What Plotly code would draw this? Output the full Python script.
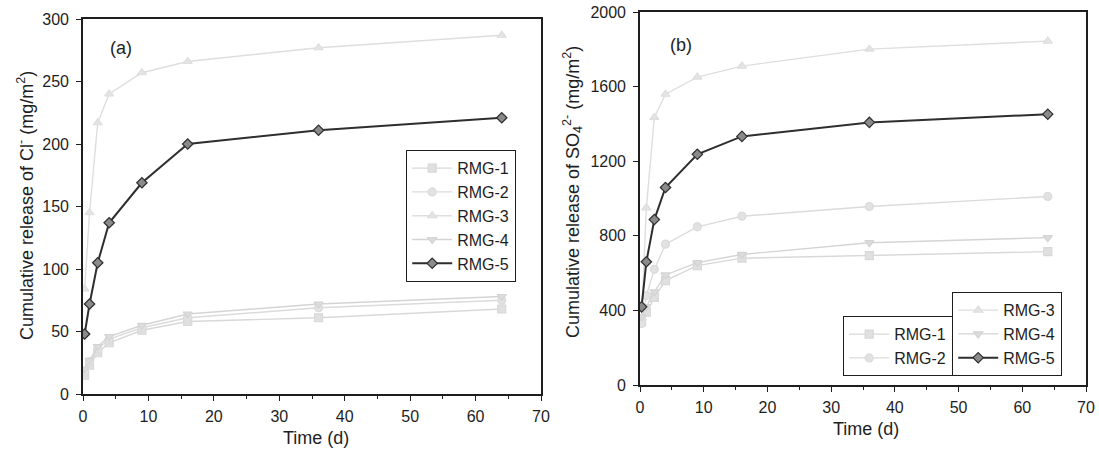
import plotly.graph_objects as go

# Leaching times (days)
time_d = [0.25, 1, 2.25, 4, 9, 16, 36, 64]

# Cumulative release of Cl- (mg/m2)
cl_rmg1 = [15, 23, 33, 41, 51, 58, 61, 68]
cl_rmg2 = [18, 26, 36, 44, 53, 61, 69, 75]
cl_rmg3 = [84, 145, 217, 240, 257, 266, 277, 287]
cl_rmg4 = [20, 27, 38, 46, 55, 64, 72, 78]
cl_rmg5 = [48, 72, 105, 137, 169, 200, 211, 221]

# Cumulative release of SO4 2- (mg/m2)
so4_rmg1 = [340, 390, 470, 560, 640, 680, 694, 715]
so4_rmg2 = [330, 480, 620, 755, 848, 905, 957, 1011]
so4_rmg3 = [360, 950, 1435, 1559, 1651, 1710, 1801, 1844]
so4_rmg4 = [366, 420, 500, 590, 656, 700, 763, 790]
so4_rmg5 = [419, 661, 887, 1059, 1237, 1333, 1408, 1452]

names = ["RMG-1", "RMG-2", "RMG-3", "RMG-4", "RMG-5"]
symbols = ["square", "circle", "triangle-up", "triangle-down", "diamond"]
line_colors = ["#d8d8d8", "#dbdbdb", "#dedede", "#d4d4d4", "#2e2e2e"]
marker_fill = ["#e0e0e0", "#e2e2e2", "#e4e4e4", "#dcdcdc", "#8a8a8a"]
line_widths = [1.4, 1.4, 1.4, 1.4, 2]

cl_series = [cl_rmg1, cl_rmg2, cl_rmg3, cl_rmg4, cl_rmg5]
so4_series = [so4_rmg1, so4_rmg2, so4_rmg3, so4_rmg4, so4_rmg5]

FONT = "Liberation Sans, Arial, sans-serif"
INK = "#1e1e1e"
W, H = 1099, 450


def fx(px):
    return px / W


def fy(py):
    return 1 - py / H


fig = go.Figure()

for i, name in enumerate(names):
    fig.add_trace(go.Scatter(
        x=time_d, y=cl_series[i], name=name, mode="lines+markers",
        xaxis="x", yaxis="y", legend="legend",
        line=dict(color=line_colors[i], width=line_widths[i]),
        marker=dict(symbol=symbols[i], size=8, color=marker_fill[i],
                    line=dict(color=line_colors[i], width=1.2)),
    ))

for i, name in enumerate(names):
    fig.add_trace(go.Scatter(
        x=time_d, y=so4_series[i], name=name, mode="lines+markers",
        xaxis="x2", yaxis="y2", legend="legend2" if i < 2 else "legend3",
        line=dict(color=line_colors[i], width=line_widths[i]),
        marker=dict(symbol=symbols[i], size=8, color=marker_fill[i],
                    line=dict(color=line_colors[i], width=1.2)),
    ))

axis_common = dict(
    showline=True, linecolor=INK, linewidth=1.6, mirror=True,
    ticks="outside", ticklen=5, tickwidth=1.4, tickcolor=INK,
    showgrid=False, zeroline=False, automargin=False,
    tickfont=dict(family=FONT, size=16, color=INK),
)
xminor = dict(ticks="outside", ticklen=3, tickwidth=1.2, tickcolor=INK, dtick=5, showgrid=False)
legend_common = dict(bgcolor="white", bordercolor=INK, borderwidth=1.2, itemwidth=40,
                     font=dict(family=FONT, size=16, color=INK))


def label(text, px, py, size, angle=0):
    return dict(text=text, x=fx(px), y=fy(py), xref="paper", yref="paper",
                xanchor="center", yanchor="middle", textangle=angle,
                showarrow=False, font=dict(family=FONT, size=size, color=INK))


fig.update_layout(
    template="none",
    width=W, height=H,
    margin=dict(l=0, r=0, t=0, b=0),
    paper_bgcolor="white", plot_bgcolor="white",
    font=dict(family=FONT, color=INK),
    xaxis=dict(domain=[fx(83), fx(541)], range=[0, 70], dtick=10, anchor="y",
               minor=xminor, ticklabelstandoff=2, **axis_common),
    yaxis=dict(domain=[fy(394), fy(19)], range=[0, 300], dtick=50, anchor="x",
               ticklabelstandoff=4, **axis_common),
    xaxis2=dict(domain=[fx(640), fx(1086)], range=[0, 70], dtick=10, anchor="y2",
                minor=xminor, ticklabelstandoff=2, **axis_common),
    yaxis2=dict(domain=[fy(385), fy(12)], range=[0, 2000], dtick=400, anchor="x2",
                ticklabelstandoff=4, **axis_common),
    legend=dict(x=fx(406), y=fy(150), xanchor="left", yanchor="top", **legend_common),
    legend2=dict(x=fx(953), y=fy(376), xanchor="right", yanchor="bottom", **legend_common),
    legend3=dict(x=fx(952), y=fy(376), xanchor="left", yanchor="bottom", **legend_common),
    annotations=[
        label("(a)", 121, 48, 18),
        label("(b)", 681, 45, 18),
        label("Time (d)", 316, 438, 18),
        label("Time (d)", 866, 429, 18),
        label("Cumulative release of Cl<sup>-</sup> (mg/m<sup>2</sup>)", 25, 206, 18, -90),
        label("Cumulative release of SO<sub>4</sub><sup>2-</sup> (mg/m<sup>2</sup>)", 572, 192, 18, -90),
    ],
)

fig.write_html("out.html")
